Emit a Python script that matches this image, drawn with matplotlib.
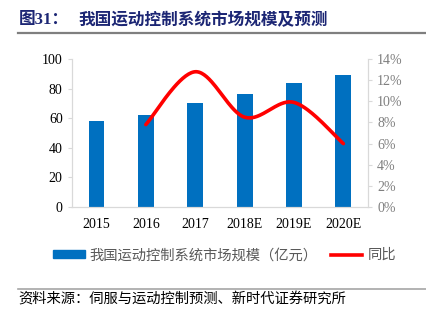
import numpy as np
import matplotlib
matplotlib.use('Agg')
import matplotlib.pyplot as plt
from matplotlib.lines import Line2D
from matplotlib.patches import Patch

# data
years = ['2015', '2016', '2017', '2018E', '2019E', '2020E']
market_size = [58, 62.5, 70.5, 76.5, 84, 89.3]      # 亿元
yoy_years = ['2016', '2017', '2018E', '2019E', '2020E']
yoy = [7.8, 12.8, 8.5, 9.9, 6.0]                    # %

cjk = ['Noto Sans CJK SC', 'DejaVu Sans']
serif_cjk = ['Liberation Serif', 'Noto Sans CJK SC']


def smooth_curve(xs, ys, n=40):
    # Excel-like smoothed line (Catmull-Rom style bezier between points)
    xs = np.asarray(xs, float)
    ys = np.asarray(ys, float)
    px = np.concatenate([[xs[0]], xs, [xs[-1]]])
    py = np.concatenate([[ys[0]], ys, [ys[-1]]])
    out_x, out_y = [], []
    for i in range(1, len(px) - 2):
        p0 = np.array([px[i - 1], py[i - 1]])
        p1 = np.array([px[i], py[i]])
        p2 = np.array([px[i + 1], py[i + 1]])
        p3 = np.array([px[i + 2], py[i + 2]])
        c1 = p1 + (p2 - p0) / 6
        c2 = p2 - (p3 - p1) / 6
        t = np.linspace(0, 1, n)[:, None]
        b = ((1 - t) ** 3) * p1 + 3 * ((1 - t) ** 2) * t * c1 + 3 * (1 - t) * t ** 2 * c2 + t ** 3 * p2
        out_x.extend(b[:, 0])
        out_y.extend(b[:, 1])
    return out_x, out_y


fig = plt.figure(figsize=(4.27, 3.21), dpi=100)
ax = fig.add_axes([0.168, 0.355, 0.694, 0.461])

x = np.arange(len(years))
ax.bar(x, market_size, width=0.32, color='#0070c0', zorder=2)
ax.set_xlim(-0.5, len(years) - 0.5)
ax.set_ylim(0, 100)
ax.set_yticks(range(0, 101, 20))
ax.set_xticks(x)
ax.set_xticklabels(years)

ax2 = ax.twinx()
xi = [years.index(y) for y in yoy_years]
sx, sy = smooth_curve(xi, yoy)
ax2.plot(sx, sy, color='#ff0000', lw=2.6, solid_capstyle='round', zorder=3)
ax2.set_ylim(0, 14)
ax2.set_yticks(range(0, 15, 2))
ax2.set_yticklabels([f'{v}%' for v in range(0, 15, 2)])

for a in (ax, ax2):
    a.spines['top'].set_visible(False)
    for s in ('left', 'right', 'bottom'):
        a.spines[s].set_color('#d9d9d9')
        a.spines[s].set_linewidth(0.8)
    a.tick_params(length=3, color='#d9d9d9', width=0.8)
    for lab in a.get_yticklabels() + a.get_xticklabels():
        lab.set_fontfamily(serif_cjk)
        lab.set_fontsize(10)
ax.tick_params(axis='x', length=0, pad=8)
ax.tick_params(axis='y', labelcolor='black', color='#d9d9d9')
ax2.tick_params(axis='y', labelcolor='#7f7f7f', color='#d9d9d9')

# legend
handles = [Patch(color='#0070c0'), Line2D([], [], color='#ff0000', lw=2.6)]
labels = ['我国运动控制系统市场规模（亿元）', '同比']
fig.legend(handles, labels, loc='center', bbox_to_anchor=(0.526, 0.205), ncol=2,
           frameon=False, prop={'family': cjk, 'size': 10.3}, labelcolor='#595959',
           handlelength=2.2, handleheight=0.5, handletextpad=0.35, columnspacing=0.9)

# title and header rule
fig.text(0.044, 0.938, '图31：', fontsize=12, fontweight='bold', color='#1c2674',
         family=serif_cjk, va='center')
fig.text(0.183, 0.938, '我国运动控制系统市场规模及预测', fontsize=12, fontweight='bold',
         color='#1c2674', family=cjk, va='center')
fig.add_artist(Line2D([0.042, 1.0], [0.898, 0.898], color='#7f7f7f', lw=1.6))

# source rule and text
fig.add_artist(Line2D([0.042, 1.0], [0.1, 0.1], color='#a6a6a6', lw=1.2))
fig.text(0.044, 0.068, '资料来源：伺服与运动控制预测、新时代证券研究所', fontsize=10.3,
         color='#000000', family=cjk, va='center')

fig.savefig('out.png', dpi=100)
